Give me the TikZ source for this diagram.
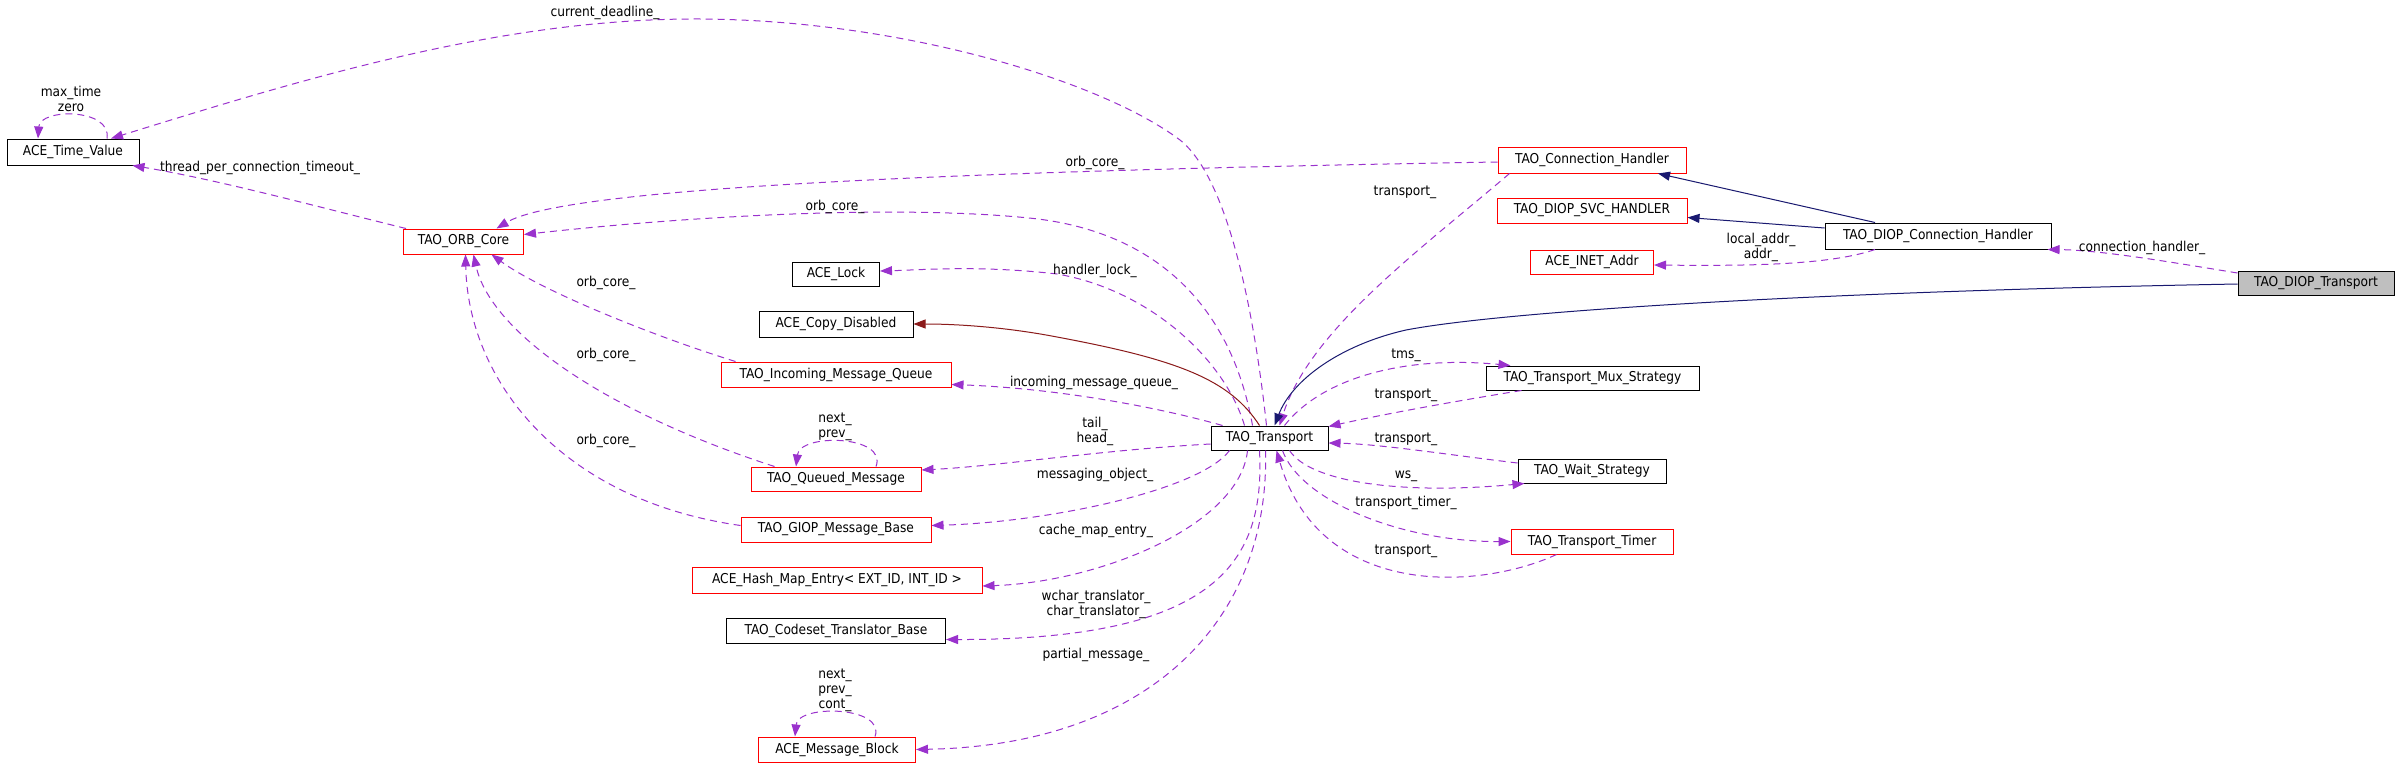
\documentclass[tikz,border=0pt]{standalone}
\usepackage{fontspec}
\setmainfont{DejaVu Sans Condensed}
\usetikzlibrary{arrows.meta}
\definecolor{dep}{RGB}{154,50,205}
\definecolor{pub}{RGB}{25,25,112}
\definecolor{prot}{RGB}{139,26,26}
\definecolor{mainfill}{RGB}{191,191,191}
\begin{document}
\begin{tikzpicture}[x=1pt,y=-1pt,
  every node/.style={font=\fontsize{13.6}{15}\selectfont},
  cls/.style={draw=black,line width=1pt,inner sep=0pt,minimum height=25pt,fill=white},
  redcls/.style={cls,draw=red},
  lbl/.style={inner sep=0pt,align=center},
  depedge/.style={draw=dep,line width=1pt,dash pattern=on 7pt off 5pt,arrows={-{Triangle[length=12pt,width=9pt,fill=dep]}}},
  pubedge/.style={draw=pub,line width=1pt,arrows={-{Triangle[length=12pt,width=9pt,fill=pub]}}},
  protedge/.style={draw=prot,line width=1pt,arrows={-{Triangle[length=12pt,width=9pt,fill=prot]}}}]
\useasboundingbox (0,0) rectangle (2400,768);
\fill[white] (0,0) rectangle (2400,768);

% class nodes
\node[cls,minimum width=132pt,minimum height=26pt] (tv) at (73,152) {ACE\_Time\_Value};
\node[redcls,minimum width=120pt] (orb) at (463.5,241.5) {TAO\_ORB\_Core};
\node[cls,minimum width=87pt,minimum height=24pt] (lock) at (836,274) {ACE\_Lock};
\node[cls,minimum width=154pt,minimum height=26pt] (copy) at (836,324) {ACE\_Copy\_Disabled};
\node[redcls,minimum width=230pt] (imq) at (836,374.5) {TAO\_Incoming\_Message\_Queue};
\node[redcls,minimum width=170pt,minimum height=24pt] (qm) at (836,479) {TAO\_Queued\_Message};
\node[redcls,minimum width=190pt] (giop) at (836,529.5) {TAO\_GIOP\_Message\_Base};
\node[redcls,minimum width=290pt,minimum height=26pt] (hash) at (837,580) {ACE\_Hash\_Map\_Entry< EXT\_ID, INT\_ID >};
\node[cls,minimum width=219pt] (cset) at (836,630.5) {TAO\_Codeset\_Translator\_Base};
\node[redcls,minimum width=157pt] (mb) at (837,749.5) {ACE\_Message\_Block};
\node[cls,minimum width=117pt,minimum height=24pt] (tr) at (1269.5,438) {TAO\_Transport};
\node[redcls,minimum width=188pt,minimum height=26pt] (ch) at (1592,160) {TAO\_Connection\_Handler};
\node[redcls,minimum width=190pt] (svc) at (1592,210.5) {TAO\_DIOP\_SVC\_HANDLER};
\node[redcls,minimum width=123pt,minimum height=24pt] (inet) at (1592,262) {ACE\_INET\_Addr};
\node[cls,minimum width=226pt,minimum height=26pt] (dch) at (1938,236) {TAO\_DIOP\_Connection\_Handler};
\node[cls,fill=mainfill,minimum width=156pt,minimum height=24pt] (dt) at (2316,283) {TAO\_DIOP\_Transport};
\node[cls,minimum width=213pt,minimum height=24pt] (mux) at (1592.5,378) {TAO\_Transport\_Mux\_Strategy};
\node[cls,minimum width=148pt,minimum height=24pt] (ws) at (1592,471) {TAO\_Wait\_Strategy};
\node[redcls,minimum width=162pt] (timer) at (1592,541.5) {TAO\_Transport\_Timer};

% edges from TAO_Transport to its members
\draw[depedge] ([xshift=-3pt]tr.north) .. controls (1255,320) and (1230,180) .. (1180,140)
   .. controls (1100,80) and (900,20) .. (700,19)
   .. controls (500,18) and (300,80) .. ([xshift=38pt]tv.north);
\draw[depedge] ([xshift=-17pt]tr.north) .. controls (1230,300) and (1150,230) .. (1029,218)
   .. controls (900,205) and (700,215) .. ([yshift=7pt]orb.east);
\draw[depedge] ([xshift=-25pt]tr.north) .. controls (1225,360) and (1150,290) .. (1057,274)
   .. controls (980,265) and (920,270) .. ([yshift=3pt]lock.east);
\draw[protedge] ([xshift=-10pt]tr.north) .. controls (1230,380) and (1180,360) .. (1057,337)
   .. controls (1000,326) and (950,324) .. (copy.east);
\draw[depedge] ([xshift=12pt]tr.north west) .. controls (1150,405) and (1050,388) .. ([yshift=-10pt]imq.east);
\draw[depedge] ([yshift=-6pt]tr.west) .. controls (1100,450) and (1000,466) .. ([yshift=9pt]qm.east);
\draw[depedge] ([xshift=-40pt]tr.south) .. controls (1200,490) and (1050,522) .. ([yshift=4pt]giop.east);
\draw[depedge] ([xshift=-22pt]tr.south) .. controls (1240,525) and (1100,582) .. ([yshift=-6pt]hash.east);
\draw[depedge] ([xshift=-10pt]tr.south) .. controls (1265,560) and (1220,640) .. ([yshift=-9pt]cset.east);
\draw[depedge] ([xshift=-4pt]tr.south) .. controls (1270,620) and (1150,745) .. (mb.east);
\draw[depedge] ([xshift=15pt]tr.north) .. controls (1320,380) and (1400,355) .. ([xshift=25pt]mux.north west);
\draw[depedge] ([xshift=20pt]tr.south) .. controls (1310,482) and (1400,495) .. ([xshift=7pt]ws.south west);
\draw[depedge] ([xshift=13pt]tr.south) .. controls (1300,500) and (1400,542) .. (timer.west);

% edges into TAO_Transport
\draw[depedge] ([xshift=36pt]mux.south west) .. controls (1450,402) and (1380,415) .. ([yshift=-1pt]tr.north east);
\draw[depedge] ([yshift=8pt]ws.west) .. controls (1450,455) and (1380,444) .. ([yshift=-5pt]tr.east);
\draw[depedge] ([xshift=46pt]timer.south west) .. controls (1480,590) and (1320,600) .. ([xshift=7pt]tr.south);
\draw[depedge] ([xshift=12pt]ch.south west) .. controls (1420,250) and (1310,330) .. ([xshift=10pt]tr.north);
\draw[pubedge] ([yshift=-1pt]dt.west) .. controls (1800,292) and (1500,312) .. (1406,330)
   .. controls (1340,345) and (1292,380) .. ([xshift=5pt]tr.north);

% ORB core related
\draw[depedge] ([xshift=3pt]orb.north west) .. controls (330,210) and (220,180) .. ([xshift=-7pt]tv.south east);
\draw[depedge] ([yshift=-2pt]ch.west) .. controls (900,172) and (560,190) .. ([xshift=33pt]orb.north);
\draw[depedge] ([xshift=15pt]imq.north west) .. controls (650,335) and (540,290) .. ([xshift=28pt]orb.south);
\draw[depedge] ([xshift=24pt]qm.north west) .. controls (600,410) and (490,330) .. ([xshift=10pt]orb.south);
\draw[depedge] ([yshift=4pt]giop.west) .. controls (560,500) and (468,380) .. ([xshift=2pt]orb.south);

% self loops
\draw[depedge] ([xshift=34pt]tv.north) .. controls (112,108) and (40,108) .. ([xshift=-35pt]tv.north);
\draw[depedge] ([xshift=40pt]qm.north) .. controls (888,435) and (800,433) .. ([xshift=-40pt]qm.north);
\draw[depedge] ([xshift=38pt]mb.north) .. controls (886,706) and (798,704) .. ([xshift=-42pt]mb.north);

% DIOP connection handler
\draw[pubedge] ([xshift=-63pt]dch.north) -- ([xshift=66pt]ch.south);
\draw[pubedge] ([yshift=8pt]dch.west) -- ([yshift=-7pt]svc.east);
\draw[depedge] ([xshift=-63pt]dch.south) .. controls (1830,265) and (1750,266) .. ([yshift=-3pt]inet.east);
\draw[depedge] ([yshift=10pt]dt.west) .. controls (2170,262) and (2100,250) .. ([xshift=-4pt]dch.south east);

% labels
\node[lbl] (l1) at (605,13) {current\_deadline\_};
\node[lbl] (l2) at (71,99) {max\_time\\zero};
\node[lbl] (l3) at (260,168) {thread\_per\_connection\_timeout\_};
\node[lbl] (l4) at (1095,163) {orb\_core\_};
\node[lbl] (l5) at (835,207) {orb\_core\_};
\node[lbl] (l6) at (1405,192) {transport\_};
\node[lbl] (l7) at (1761,247) {local\_addr\_\\addr\_};
\node[lbl] (l8) at (2142,248) {connection\_handler\_};
\node[lbl] (l9) at (1095,271) {handler\_lock\_};
\node[lbl] (l10) at (1094,383) {incoming\_message\_queue\_};
\node[lbl] (l11) at (1095,431) {tail\_\\head\_};
\node[lbl] (l12) at (1095,475) {messaging\_object\_};
\node[lbl] (l13) at (606,283) {orb\_core\_};
\node[lbl] (l14) at (606,355) {orb\_core\_};
\node[lbl] (l15) at (606,441) {orb\_core\_};
\node[lbl] (l16) at (835,426.5) {next\_\\prev\_};
\node[lbl] (l17) at (1096,531) {cache\_map\_entry\_};
\node[lbl] (l18) at (1096,604.5) {wchar\_translator\_\\char\_translator\_};
\node[lbl] (l19) at (1096,655) {partial\_message\_};
\node[lbl] (l20) at (835,690) {next\_\\prev\_\\cont\_};
\node[lbl] (l21) at (1406,355) {tms\_};
\node[lbl] (l22) at (1406,395) {transport\_};
\node[lbl] (l23) at (1406,439) {transport\_};
\node[lbl] (l24) at (1406,476) {ws\_};
\node[lbl] (l25) at (1406,503) {transport\_timer\_};
\node[lbl] (l26) at (1406,551) {transport\_};
\end{tikzpicture}
\end{document}
